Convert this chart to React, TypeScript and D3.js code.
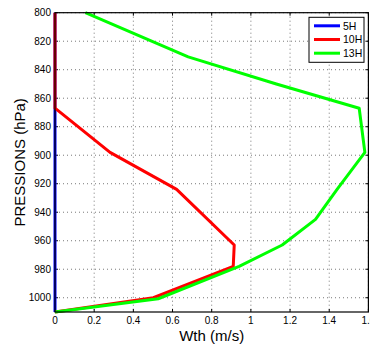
import React from "react";
import * as d3 from "d3";

const pressures5H = [800, 830, 867, 898, 924, 945, 963, 978, 1000, 1010];
const wth5H = [0, 0, 0, 0, 0, 0, 0, 0, 0, 0];

const pressures10H = [800, 830, 867, 898, 924, 963, 978, 1000, 1010];
const wth10H = [0, 0, 0, 0.281, 0.621, 0.915, 0.91, 0.502, 0];

const pressures13H = [800, 831, 850, 867, 898, 924, 945, 963, 978, 1000.7, 1010];
const wth13H = [0.155, 0.68, 1.13, 1.553, 1.582, 1.44, 1.33, 1.16, 0.94, 0.527, 0];

const xTicks = [0, 0.2, 0.4, 0.6, 0.8, 1, 1.2, 1.4, 1.6];
const yTicks = [800, 820, 840, 860, 880, 900, 920, 940, 960, 980, 1000];

const seriesNames = ["5H", "10H", "13H"];
const seriesColors = ["#0000ff", "#ff0000", "#00ff00"];

export default function App() {
  const W = 370, H = 350;
  const L = 55, R = 368.4, T = 12.7, B = 312;
  const x = d3.scaleLinear().domain([0, 1.6]).range([L, R]);
  const y = d3.scaleLinear().domain([800, 1010]).range([T, B]);
  const line = d3.line<[number, number]>().x(d => x(d[0])).y(d => y(d[1]));
  const series = [
    wth5H.map((v, i) => [v, pressures5H[i]] as [number, number]),
    wth10H.map((v, i) => [v, pressures10H[i]] as [number, number]),
    wth13H.map((v, i) => [v, pressures13H[i]] as [number, number]),
  ];
  const font = "Liberation Sans, Arial, sans-serif";
  const legX = 309, legY = 17.3, legW = 55, legH = 45;
  return (
    <svg width={W} height={H} style={{ position: "absolute", left: 0, top: 0, background: "#fff" }}>
      <rect x={0} y={0} width={W} height={H} fill="#fff" />
      {/* grid */}
      {xTicks.map(t => (
        <line key={"gx" + t} x1={x(t)} x2={x(t)} y1={T} y2={B} stroke="#555" strokeWidth={0.8} strokeDasharray="1,3" />
      ))}
      {yTicks.map(t => (
        <line key={"gy" + t} x1={L} x2={R} y1={y(t)} y2={y(t)} stroke="#555" strokeWidth={0.8} strokeDasharray="1,3" />
      ))}
      {/* ticks */}
      {xTicks.map(t => (
        <g key={"tx" + t}>
          <line x1={x(t)} x2={x(t)} y1={B} y2={B - 3} stroke="#000" />
          <line x1={x(t)} x2={x(t)} y1={T} y2={T + 3} stroke="#000" />
          <text x={x(t)} y={B + 12} fontSize={10} fontFamily={font} textAnchor="middle" fill="#000">{String(t)}</text>
        </g>
      ))}
      {yTicks.map(t => (
        <g key={"ty" + t}>
          <line x1={L} x2={L + 3} y1={y(t)} y2={y(t)} stroke="#000" />
          <line x1={R} x2={R - 3} y1={y(t)} y2={y(t)} stroke="#000" />
          <text x={L - 4} y={y(t) + 3.5} fontSize={10} fontFamily={font} textAnchor="end" fill="#000">{String(t)}</text>
        </g>
      ))}
      {/* lines */}
      {series.map((s, i) => (
        <path key={"s" + i} d={line(s) || ""} fill="none" stroke={seriesColors[i]} strokeWidth={3} strokeLinejoin="round" />
      ))}
      {/* frame */}
      <rect x={L} y={T} width={R - L} height={B - T} fill="none" stroke="#000" strokeWidth={1.2} />
      {/* legend */}
      <rect x={legX} y={legY} width={legW} height={legH} fill="#fff" stroke="#000" strokeWidth={1} />
      {seriesNames.map((n, i) => (
        <g key={"lg" + n}>
          <line x1={314} x2={340} y1={legY + 8.5 + i * 13.7} y2={legY + 8.5 + i * 13.7} stroke={seriesColors[i]} strokeWidth={3} />
          <text x={343} y={legY + 12.3 + i * 13.7} fontSize={10.5} fontFamily={font} fill="#000">{n}</text>
        </g>
      ))}
      {/* axis labels */}
      <text x={(L + R) / 2} y={341} fontSize={15} fontFamily={font} textAnchor="middle" fill="#000">Wth (m/s)</text>
      <text transform={`translate(25,${(T + B) / 2}) rotate(-90)`} fontSize={15} fontFamily={font} textAnchor="middle" fill="#000">PRESSIONS (hPa)</text>
    </svg>
  );
}
